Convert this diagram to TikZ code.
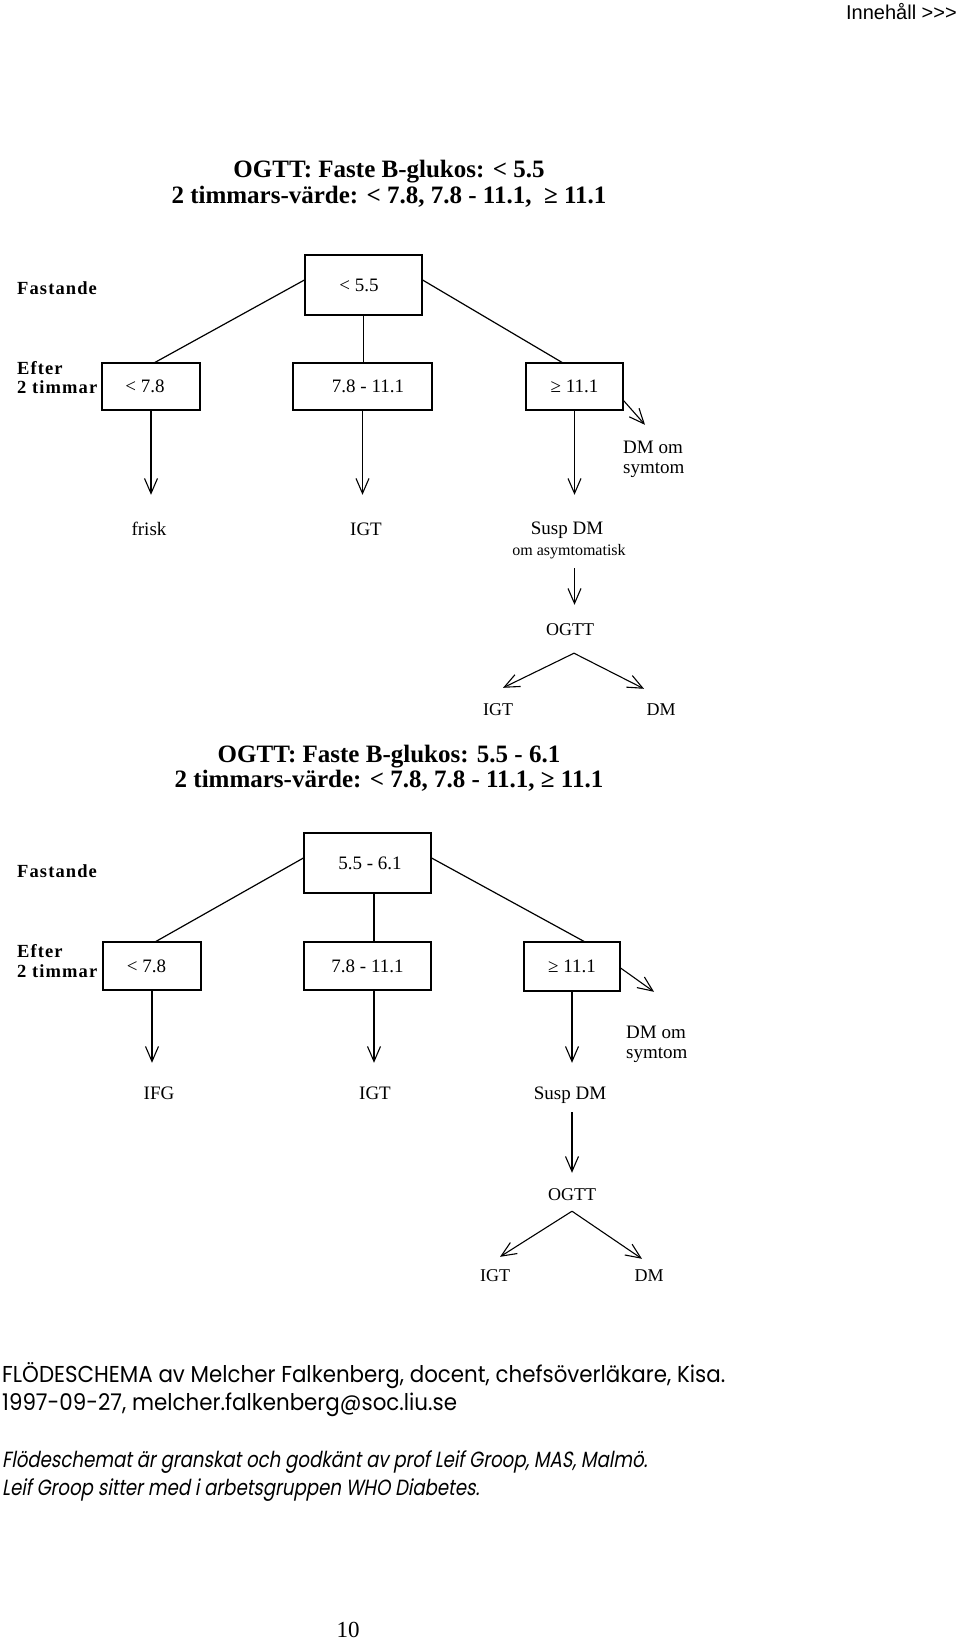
\documentclass[tikz,border=0pt]{standalone}
\usepackage{fontspec}
\setmainfont{Liberation Serif}
\newfontfamily\innfont{Liberation Sans}
\newfontfamily\futfont[FakeStretch=0.93]{Poppins}
\newfontfamily\futitfont[FakeStretch=0.825,FakeSlant=0.18]{Poppins}
\usetikzlibrary{arrows.meta}
\tikzset{
  box/.style={draw, line width=1.2pt, inner sep=0pt, font=\fontsize{19}{22}\selectfont},
  conn/.style={line width=1.2pt},
  arr/.style={line width=1.1pt, -{Straight Barb[length=15pt,width=13pt,line width=1.1pt]}},
  lbl/.style={inner sep=0pt, anchor=base, font=\fontsize{19}{22}\selectfont, text height=14pt, text depth=4pt},
  lblsm/.style={lbl, font=\fontsize{16}{19}\selectfont, text height=11pt, text depth=4pt},
  lblm/.style={lbl, font=\fontsize{18}{21}\selectfont},
  lblw/.style={lbl, anchor=base west},
  titletext/.style={inner sep=0pt, anchor=base, font=\bfseries\fontsize{25}{30}\selectfont},
  side/.style={inner sep=0pt, anchor=base west, font=\bfseries\fontsize{18.5}{22}\selectfont\addfontfeature{LetterSpace=6}},
  foot/.style={inner sep=0pt, anchor=base west, font=\futfont\fontsize{23}{27}\selectfont},
  footit/.style={inner sep=0pt, anchor=base west, font=\futitfont\fontsize{22}{26}\selectfont}
}
\begin{document}
\begin{tikzpicture}[x=1pt,y=-1pt]
\useasboundingbox (0,0) rectangle (960,1639);

% header
\node[inner sep=0pt, anchor=base east, font=\innfont\fontsize{20}{23}\selectfont] (inn) at (957,19.5) {Innehåll >>>};

% ---------- section 1 ----------
\node[titletext] (t1a) at (389,177) {OGTT: Faste B-glukos: < 5.5};
\node[titletext] (t1b) at (389,203) {2 timmars-värde: < 7.8, 7.8 - 11.1, \ ≥ 11.1};

\node[side] (fa1) at (17,294) {Fastande};
\node[side] (ef1) at (17,374) {Efter};
\node[side] (tv1) at (17,393) {2 timmar};

\node[box, minimum width=117pt, minimum height=60pt] (r1) at (363.5,285) {\hspace*{-9pt}< 5.5};
\node[box, minimum width=98pt, minimum height=47pt] (a1) at (151,386.5) {\hspace*{-12pt}< 7.8};
\node[box, minimum width=139pt, minimum height=47pt] (b1) at (362.5,386.5) {\hspace*{11pt}7.8 - 11.1};
\node[box, minimum width=97pt, minimum height=47pt] (c1) at (574.5,386.5) {≥ 11.1};

\node[lbl] (frisk1) at (149,535) {frisk};
\node[lbl] (igt1) at (366,535) {IGT};
\node[lbl] (susp1) at (567,534) {Susp DM};
\node[lblsm] (asym1) at (569,555) {om asymtomatisk};
\node[lblm] (ogtt1) at (570,635) {OGTT};
\node[lblm] (igt1b) at (498,715) {IGT};
\node[lblm] (dm1b) at (661,715) {DM};
\node[lblw] (dmom1) at (623,453) {DM om};
\node[lblw] (sym1) at (623,473) {symtom};

\draw[conn] ([yshift=5pt]r1.west) -- ([xshift=4pt]a1.north);
\draw[conn] ([yshift=5pt]r1.east) -- ([xshift=-12.5pt]c1.north);
\draw[conn] (r1.south) -- (r1.south |- b1.north);
\draw[arr, shorten >=26pt] (a1.south) -- (a1.south |- frisk1.north);
\draw[arr, shorten >=26pt] (b1.south) -- (b1.south |- igt1.north);
\draw[arr, shorten >=25pt] (c1.south) -- (c1.south |- susp1.north);
\draw[arr] ([yshift=10pt]c1.south east) -- ([xshift=22pt,yshift=14pt]dmom1.north west);
\draw[arr, shorten <=9pt, shorten >=16pt] (c1.south |- asym1.south) -- (c1.south |- ogtt1.north);
\draw[arr] ([xshift=4pt,yshift=-14pt]ogtt1.south) -- ([xshift=5pt,yshift=13pt]igt1b.north);
\draw[arr] ([xshift=4pt,yshift=-14pt]ogtt1.south) -- ([xshift=-17pt,yshift=12pt]dm1b.north);

% ---------- section 2 ----------
\node[titletext] (t2a) at (389,762) {OGTT: Faste B-glukos: 5.5 - 6.1};
\node[titletext] (t2b) at (389,787) {2 timmars-värde: < 7.8, 7.8 - 11.1, ≥ 11.1};

\node[side] (fa2) at (17,877) {Fastande};
\node[side] (ef2) at (17,957) {Efter};
\node[side] (tv2) at (17,977) {2 timmar};

\node[box, minimum width=127pt, minimum height=60pt] (r2) at (367.5,863) {\hspace*{5pt}5.5 - 6.1};
\node[box, minimum width=98pt, minimum height=48pt] (a2) at (152,966) {\hspace*{-11pt}< 7.8};
\node[box, minimum width=127pt, minimum height=48pt] (b2) at (367.5,966) {7.8 - 11.1};
\node[box, minimum width=96pt, minimum height=49pt] (c2) at (572,966.5) {≥ 11.1};

\node[lbl] (ifg2) at (159,1099) {IFG};
\node[lbl] (igt2) at (375,1099) {IGT};
\node[lbl] (susp2) at (570,1099) {Susp DM};
\node[lblm] (ogtt2) at (572,1200) {OGTT};
\node[lblm] (igt2b) at (495,1281) {IGT};
\node[lblm] (dm2b) at (649,1281) {DM};
\node[lblw] (dmom2) at (626,1038) {DM om};
\node[lblw] (sym2) at (626,1058) {symtom};

\draw[conn] ([yshift=5pt]r2.west) -- ([xshift=4pt]a2.north);
\draw[conn] ([yshift=5pt]r2.east) -- ([xshift=12pt]c2.north);
\draw[conn] ([xshift=6.5pt]r2.south) -- ([xshift=6.5pt]b2.north);
\draw[arr, shorten >=22pt] (a2.south) -- (a2.south |- ifg2.north);
\draw[arr, shorten >=22pt] ([xshift=6.5pt]b2.south) -- ([xshift=6.5pt]b2.south |- igt2.north);
\draw[arr, shorten >=22pt] (c2.south) -- (c2.south |- susp2.north);
\draw[arr] ([yshift=-1.5pt]c2.east) -- ([xshift=28pt,yshift=32pt]dmom2.north west);
\draw[arr, shorten <=9pt, shorten >=13pt] (c2.south |- susp2.south) -- (c2.south |- ogtt2.north);
\draw[arr] ([yshift=-7pt]ogtt2.south) -- ([xshift=5pt,yshift=10pt]igt2b.north);
\draw[arr] ([yshift=-7pt]ogtt2.south) -- ([xshift=-7pt,yshift=8pt]dm2b.north);

% ---------- footer ----------
\node[foot] (f1) at (2,1382) {FLÖDESCHEMA av Melcher Falkenberg, docent, chefsöverläkare, Kisa.};
\node[foot] (f2) at (2,1410) {1997-09-27, melcher.falkenberg@soc.liu.se};
\node[footit] (f3) at (2,1467) {Flödeschemat är granskat och godkänt av prof Leif Groop, MAS, Malmö.};
\node[footit] (f4) at (2,1495) {Leif Groop sitter med i arbetsgruppen WHO Diabetes.};

\node[inner sep=0pt, anchor=base, font=\fontsize{23}{26}\selectfont] (pg) at (348,1637) {10};
\end{tikzpicture}
\end{document}
